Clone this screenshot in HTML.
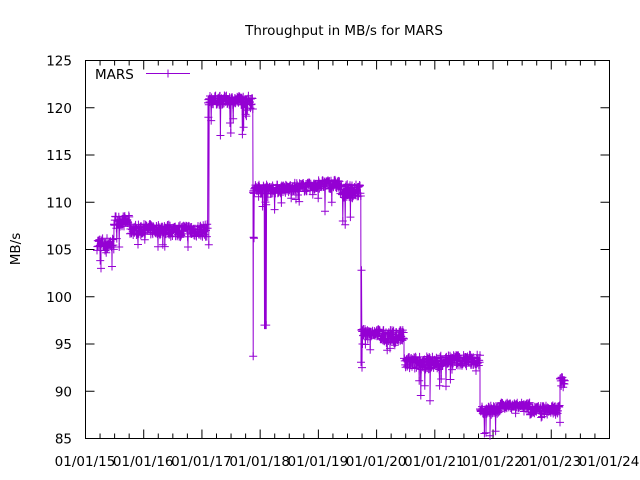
<!DOCTYPE html>
<html><head><meta charset="utf-8"><style>
html,body{margin:0;padding:0;background:#fff;}
svg{display:block;font-family:"DejaVu Sans","Liberation Sans",sans-serif;}
</style></head><body>
<svg id="s" width="640" height="480" viewBox="0 0 640 480" xmlns="http://www.w3.org/2000/svg">
<rect width="640" height="480" fill="#fff"/>
<text x="344" y="35" font-size="13.5" text-anchor="middle">Throughput in MB/s for MARS</text>
<text transform="translate(20,249) rotate(-90)" font-size="13.5" text-anchor="middle">MB/s</text>
<g id="ax" stroke="#000" stroke-width="1" fill="none"></g>
<g id="lab" font-size="13.5"></g>
<g id="data" stroke="#9400d3" stroke-width="1" fill="none"></g>
<text x="95" y="79" font-size="13.5">MARS</text>
<path d="M146 73.5H190M168 69.5V77.5M164 73.5H172" stroke="#9400d3" fill="none"/>
</svg>
<script>
var NS="http://www.w3.org/2000/svg";
function el(p,t,a,txt){var e=document.createElementNS(NS,t);for(var k in a)e.setAttribute(k,a[k]);if(txt!=null)e.textContent=txt;p.appendChild(e);return e;}
var ax=document.getElementById('ax'),lab=document.getElementById('lab'),dg=document.getElementById('data');
var L=85.5,R=609.5,T=60.5,B=438.5;
el(ax,'rect',{x:L,y:T,width:R-L,height:B-T});
function Y(v){return 438.5-(v-85)*9.45;}
var d='';
for(var v=85;v<=125;v+=5){var y=Y(v);d+='M'+L+' '+y+'h9M'+R+' '+y+'h-9';
 el(lab,'text',{x:72,y:y+5,'text-anchor':'end'},String(v));}
var yrs=['15','16','17','18','19','20','21','22','23','24'];
for(var i=0;i<=36;i++){var x=85.5+i*14.555;var len=(i%4==0)?9:5;
 d+='M'+x+' '+B+'v-'+len+'M'+x+' '+T+'v'+len;}
for(var i=0;i<10;i++){var x=85+i*58.22;el(lab,'text',{x:x,y:466,'text-anchor':'middle'},'01/01/'+yrs[i]);}
el(ax,'path',{d:d});
var seed=7;function rnd(){seed=(seed*16807)%2147483647;return seed/2147483647;}
var segs=[[97,114,105.6,0.7,103],[114,130,108,0.6,105],[130,170,107.1,0.6,104.5],[170,208,107,0.7,104],[208,253,120.8,0.5,117],
[253,290,111.4,0.5,109],[290,315,111.6,0.5,110],[315,340,111.9,0.5,108.5],[340,361,111.2,0.7,107.5],[361,380,96.2,0.4,93],[380,404,95.8,0.7,94],
[404,440,93,0.7,89],[440,480,93.3,0.6,90],[480,500,88,0.5,85.3],[500,530,88.5,0.3,87],[530,560,88,0.5,86.5],[560,565,91,0.6,90]];
var pts=[];
segs.forEach(function(s){for(var x=s[0];x<s[1];x+=0.4){var v=s[2]+(rnd()-0.5)*2*s[3];
 if(rnd()<0.07)v=s[2]-(s[2]-s[4])*rnd();pts.push([x,v]);}});
function ins(x,v){for(var i=0;i<pts.length;i++)if(pts[i][0]>x){pts.splice(i,0,[x,v]);return;}}
ins(253.2,93.7);ins(253.6,106.3);ins(254,106.2);ins(264.5,97);ins(265,97);ins(265.6,97);ins(266.2,97);ins(361.5,102.8);ins(362,92.5);ins(362.5,95);
ins(208.4,119);ins(208.8,105.5);ins(101,103);ins(112,103.2);ins(490,85.3);ins(486,85.6);ins(430,89);
var p='M'+pts[0][0]+' '+Y(pts[0][1]).toFixed(1),m='';
pts.forEach(function(q){var x=q[0],y=Y(q[1]);p+='L'+x.toFixed(1)+' '+y.toFixed(1);
 m+='M'+(x-4).toFixed(1)+' '+y.toFixed(1)+'h8M'+x.toFixed(1)+' '+(y-4).toFixed(1)+'v8';});
el(dg,'path',{d:p});el(dg,'path',{d:m});
</script>
</body></html>
